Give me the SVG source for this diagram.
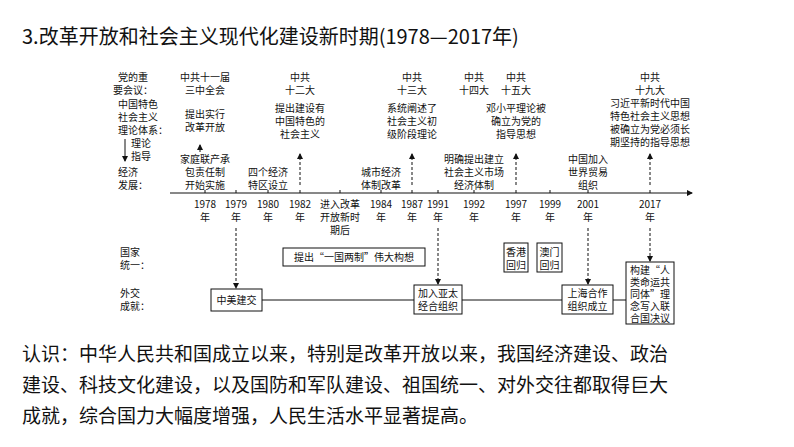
<svg xmlns="http://www.w3.org/2000/svg" width="794" height="447" viewBox="0 0 794 447">
<style>
text{font-family:"Noto Sans CJK SC","Liberation Sans",sans-serif;fill:#111}
.s{font-size:10px}
.c{text-anchor:middle}
.b{fill:#fff;stroke:#111;stroke-width:1}
.d{stroke:#111;stroke-width:1;stroke-dasharray:3,2;fill:none}
.l{stroke:#111;stroke-width:1;fill:none}
</style>
<defs><marker id="a" markerWidth="6" markerHeight="6" refX="5" refY="3" orient="auto"><path d="M0,0L6,3L0,6z" fill="#111"/></marker></defs>
<rect width="794" height="447" fill="#fff"/>
<text x="22" y="44" font-size="20">3.改革开放和社会主义现代化建设新时期(1978—2017年)</text>
<g id="labels" class="s">
<text x="118" y="81">党的重</text><text x="113" y="94">要会议：</text>
<text x="118" y="108">中国特色</text><text x="118" y="121">社会主义</text><text x="118" y="134">理论体系：</text>
<text x="131" y="147">理论</text><text x="131" y="160">指导</text>
<text x="118" y="176">经济</text><text x="118" y="189">发展：</text>
<text x="120" y="256">国家</text><text x="120" y="269">统一：</text>
<text x="120" y="297">外交</text><text x="120" y="310">成就：</text>
</g>
<g id="connectors">
<line class="l" x1="125" y1="139" x2="125" y2="161" marker-end="url(#a)"/>
<line class="l" x1="170" y1="193" x2="692" y2="193" marker-end="url(#a)"/>
<g class="l"><path d="M205,190v3M236,190v3M268,190v3M300,190v3M340,190v3M381,190v3M412,190v3M438,190v3M474,190v3M516,190v3M550,190v3M588,190v3M650,190v3"/></g>
<line class="l" x1="200" y1="152" x2="200" y2="145" marker-end="url(#a)"/>
<line class="d" x1="300" y1="185" x2="300" y2="154" marker-end="url(#a)"/>
<line class="d" x1="412" y1="185" x2="412" y2="154" marker-end="url(#a)"/>
<line class="d" x1="516" y1="185" x2="516" y2="154" marker-end="url(#a)"/>
<line class="d" x1="650" y1="185" x2="650" y2="154" marker-end="url(#a)"/>
<line class="d" x1="236" y1="228" x2="236" y2="288" marker-end="url(#a)"/>
<line class="d" x1="438" y1="228" x2="438" y2="284" marker-end="url(#a)"/>
<line class="d" x1="588" y1="228" x2="588" y2="284" marker-end="url(#a)"/>
<line class="d" x1="650" y1="228" x2="650" y2="261" marker-end="url(#a)"/>
<line class="l" x1="262" y1="300" x2="626" y2="300"/>
</g>
<g id="years" class="s c">
<text x="205" y="208">1978</text><text x="205" y="221">年</text>
<text x="236" y="208">1979</text><text x="236" y="221">年</text>
<text x="268" y="208">1980</text><text x="268" y="221">年</text>
<text x="300" y="208">1982</text><text x="300" y="221">年</text>
<text x="340" y="208">进入改革</text><text x="340" y="221">开放新时</text><text x="340" y="234">期后</text>
<text x="381" y="208">1984</text><text x="381" y="221">年</text>
<text x="412" y="208">1987</text><text x="412" y="221">年</text>
<text x="438" y="208">1991</text><text x="438" y="221">年</text>
<text x="474" y="208">1992</text><text x="474" y="221">年</text>
<text x="516" y="208">1997</text><text x="516" y="221">年</text>
<text x="550" y="208">1999</text><text x="550" y="221">年</text>
<text x="588" y="208">2001</text><text x="588" y="221">年</text>
<text x="650" y="208">2017</text><text x="650" y="221">年</text>
</g>
<g id="meetings" class="s c">
<text x="205" y="81">中共十一届</text><text x="205" y="94">三中全会</text>
<text x="300" y="81">中共</text><text x="300" y="94">十二大</text>
<text x="412" y="81">中共</text><text x="412" y="94">十三大</text>
<text x="474" y="81">中共</text><text x="474" y="94">十四大</text>
<text x="516" y="81">中共</text><text x="516" y="94">十五大</text>
<text x="650" y="81">中共</text><text x="650" y="94">十九大</text>
</g>
<g id="theory" class="s c">
<text x="205" y="118">提出实行</text><text x="205" y="131">改革开放</text>
<text x="300" y="112">提出建设有</text><text x="300" y="125">中国特色的</text><text x="300" y="138">社会主义</text>
<text x="412" y="112">系统阐述了</text><text x="412" y="125">社会主义初</text><text x="412" y="138">级阶段理论</text>
<text x="516" y="112">邓小平理论被</text><text x="516" y="125">确立为党的</text><text x="516" y="138">指导思想</text>
<text x="650" y="107">习近平新时代中国</text><text x="650" y="120">特色社会主义思想</text><text x="650" y="133">被确立为党必须长</text><text x="650" y="146">期坚持的指导思想</text>
</g>
<g id="economy" class="s c">
<text x="205" y="163">家庭联产承</text><text x="205" y="176">包责任制</text><text x="205" y="189">开始实施</text>
<text x="268" y="176">四个经济</text><text x="268" y="189">特区设立</text>
<text x="381" y="176">城市经济</text><text x="381" y="189">体制改革</text>
<text x="474" y="163">明确提出建立</text><text x="474" y="176">社会主义市场</text><text x="474" y="189">经济体制</text>
<text x="588" y="163">中国加入</text><text x="588" y="176">世界贸易</text><text x="588" y="189">组织</text>
</g>
<g id="unify" class="s c">
<rect class="b" x="283" y="248" width="142" height="18"/><text x="354" y="261">提出“一国两制”伟大构想</text>
<rect class="b" x="504" y="243" width="24" height="29"/><text x="516" y="256">香港</text><text x="516" y="269">回归</text>
<rect class="b" x="537" y="243" width="25" height="29"/><text x="549.5" y="256">澳门</text><text x="549.5" y="269">回归</text>
</g>
<g id="diplomacy" class="s c">
<rect class="b" x="211" y="289" width="51" height="22"/><text x="236.5" y="304">中美建交</text>
<rect class="b" x="414" y="285" width="48" height="29"/><text x="438" y="297">加入亚太</text><text x="438" y="310">经合组织</text>
<rect class="b" x="562" y="285" width="51" height="29"/><text x="587.5" y="297">上海合作</text><text x="587.5" y="310">组织成立</text>
<rect class="b" x="626" y="262" width="48" height="62"/><text x="650" y="274">构建“人</text><text x="650" y="286">类命运共</text><text x="650" y="298">同体”理</text><text x="650" y="310">念写入联</text><text x="650" y="322">合国决议</text>
</g>
<g id="summary" font-size="19">
<text x="22" y="361">认识：中华人民共和国成立以来，特别是改革开放以来，我国经济建设、政治</text>
<text x="22" y="392">建设、科技文化建设，以及国防和军队建设、祖国统一、对外交往都取得巨大</text>
<text x="22" y="423">成就，综合国力大幅度增强，人民生活水平显著提高。</text>
</g>
</svg>
